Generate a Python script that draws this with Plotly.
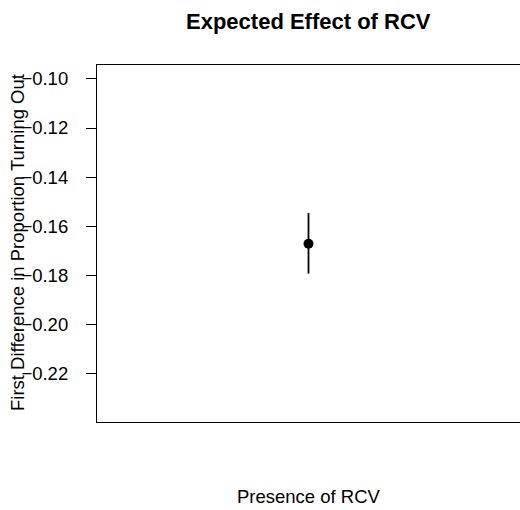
import plotly.graph_objects as go

# Simulated first difference in turnout (mean with 95% interval)
categories = [1]
estimate = [-0.1672]
lower = [-0.1794]
upper = [-0.1547]
ytick_vals = [-0.10, -0.12, -0.14, -0.16, -0.18, -0.20, -0.22]
ytick_text = ["\u22120.10", "\u22120.12", "\u22120.14", "\u22120.16", "\u22120.18", "\u22120.20", "\u22120.22"]

err_plus = [u - e for u, e in zip(upper, estimate)]
err_minus = [e - l for e, l in zip(estimate, lower)]

font = "Liberation Sans, Arial, sans-serif"
BASE = 18.5

W, H = 520, 510
L, R, T, B = 97, 0, 65, 88

fig = go.Figure(
    go.Scatter(
        x=categories,
        y=estimate,
        mode="markers",
        marker=dict(color="black", size=10),
        error_y=dict(type="data", array=err_plus, arrayminus=err_minus,
                     color="black", thickness=1.8, width=0),
        showlegend=False,
    )
)

def paper_y(py):
    return (H - B - py) / (H - T - B)

def paper_x(px):
    return (px - L) / (W - L - R)

fig.update_layout(
    width=W,
    height=H,
    margin=dict(l=L, r=R, t=T, b=B),
    paper_bgcolor="white",
    plot_bgcolor="white",
    font=dict(family=font, size=BASE, color="black"),
    xaxis=dict(range=[0, 2], showticklabels=False, ticks="", showgrid=False,
               zeroline=False, showline=True, linecolor="black", linewidth=1.2,
               mirror=True),
    yaxis=dict(range=[-0.2399, -0.0943], tickvals=ytick_vals, ticktext=ytick_text,
               ticks="outside", ticklen=10, tickwidth=1, tickcolor="black",
               ticklabelstandoff=14, showgrid=False, zeroline=False,
               showline=True, linecolor="black", linewidth=1.2, mirror=True,
               tickfont=dict(size=BASE)),
    annotations=[
        dict(text="<b>Expected Effect of RCV</b>", x=0.5, xref="paper",
             y=paper_y(22), yref="paper", yanchor="middle", showarrow=False,
             font=dict(size=22)),
        dict(text="Presence of RCV", x=0.5, xref="paper",
             y=paper_y(497), yref="paper", yanchor="middle", showarrow=False,
             borderpad=0, font=dict(size=BASE)),
        dict(text="First Difference in Proportion Turning Out", textangle=-90,
             x=paper_x(17), xref="paper", xanchor="center",
             y=paper_y(243), yref="paper", yanchor="middle", showarrow=False,
             font=dict(size=BASE)),
    ],
)

fig.write_html("out.html")
